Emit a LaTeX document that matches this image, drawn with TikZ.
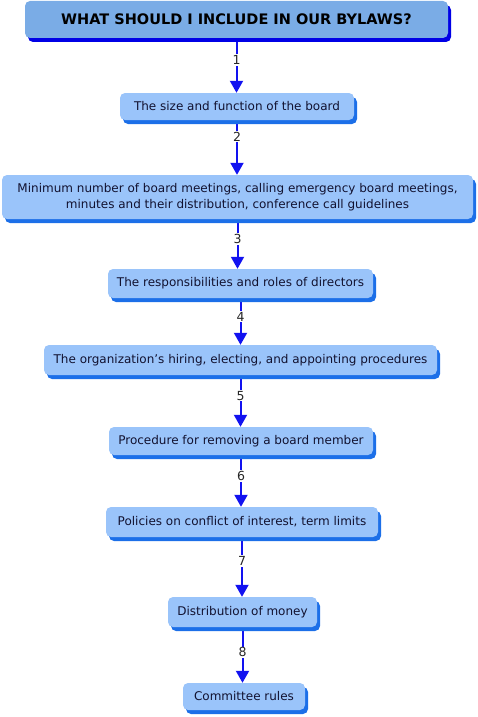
\documentclass[tikz,border=0pt]{standalone}
\usepackage{fontspec}
\setmainfont{DejaVu Sans}
\usepackage{xcolor}
\usepackage{tikz}
\usetikzlibrary{arrows.meta,backgrounds,shadows}
\definecolor{titlefill}{HTML}{7AACE6}
\definecolor{titleshade}{HTML}{0000E6}
\definecolor{stepfill}{HTML}{9AC4FA}
\definecolor{stepshade}{HTML}{1C6FE8}
\definecolor{flowblue}{HTML}{1212F0}
\definecolor{textmain}{HTML}{121230}

\begin{document}
\begin{tikzpicture}[
  titlebox/.style={
    rectangle, rounded corners=5pt, fill=titlefill,
    inner sep=0pt, text=black,
    font=\fontsize{14.5}{16}\selectfont\bfseries,
    drop shadow={shadow xshift=3pt, shadow yshift=-4pt, fill=titleshade, opacity=1},
  },
  stepbox/.style={
    rectangle, rounded corners=5pt, fill=stepfill,
    inner sep=0pt, align=center, text=textmain,
    font=\fontsize{12}{16}\selectfont,
    drop shadow={shadow xshift=3pt, shadow yshift=-4pt, fill=stepshade, opacity=1},
  },
  flow/.style={
    draw=flowblue, line width=2pt,
    -{Triangle[width=13pt, length=12pt]},
  },
  steplabel/.style={
    fill=white, inner sep=1pt, text=black!85,
    font=\fontsize{12.5}{14}\selectfont,
  },
]
\useasboundingbox (0,0) rectangle (478pt,-717pt);

% Title
\node[titlebox, minimum width=423pt, minimum height=37pt] (title) at (236.5pt, -19.5pt) {WHAT SHOULD I INCLUDE IN OUR BYLAWS?};

% Steps
\node[stepbox, minimum width=234pt, minimum height=27pt] (size) at (237pt, -106.5pt) {The size and function of the board};
\node[stepbox, minimum width=471pt, minimum height=44pt] (meetings) at (237.5pt, -197pt) {Minimum number of board meetings, calling emergency board meetings,\\minutes and their distribution, conference call guidelines};
\node[stepbox, minimum width=265pt, minimum height=29pt] (duties) at (240.5pt, -283.5pt) {The responsibilities and roles of directors};
\node[stepbox, minimum width=393pt, minimum height=30pt] (hiring) at (240.5pt, -360pt) {The organization’s hiring, electing, and appointing procedures};
\node[stepbox, minimum width=264pt, minimum height=28pt] (removal) at (241pt, -441pt) {Procedure for removing a board member};
\node[stepbox, minimum width=272pt, minimum height=30pt] (policies) at (242pt, -522pt) {Policies on conflict of interest, term limits};
\node[stepbox, minimum width=149pt, minimum height=30pt] (money) at (242.5pt, -612pt) {Distribution of money};
\node[stepbox, minimum width=122pt, minimum height=27pt] (committee) at (244pt, -696.5pt) {Committee rules};

% Connectors
\begin{scope}[on background layer]
\draw[flow] (title.south) -- (title.south |- size.north) node[steplabel, pos=0.4] {1};
\draw[flow] (size.south) -- (size.south |- meetings.north) node[steplabel, pos=0.3] {2};
\draw[flow] (meetings.south) -- (meetings.south |- duties.north) node[steplabel, pos=0.4] {3};
\draw[flow] (duties.south) -- (duties.south |- hiring.north) node[steplabel, pos=0.4] {4};
\draw[flow] (hiring.south) -- (hiring.south |- removal.north) node[steplabel, pos=0.4] {5};
\draw[flow] (removal.south) -- (removal.south |- policies.north) node[steplabel, pos=0.4] {6};
\draw[flow] (policies.south) -- (policies.south |- money.north) node[steplabel, pos=0.4] {7};
\draw[flow] (money.south) -- (money.south |- committee.north) node[steplabel, pos=0.45] {8};
\end{scope}

\end{tikzpicture}
\end{document}
